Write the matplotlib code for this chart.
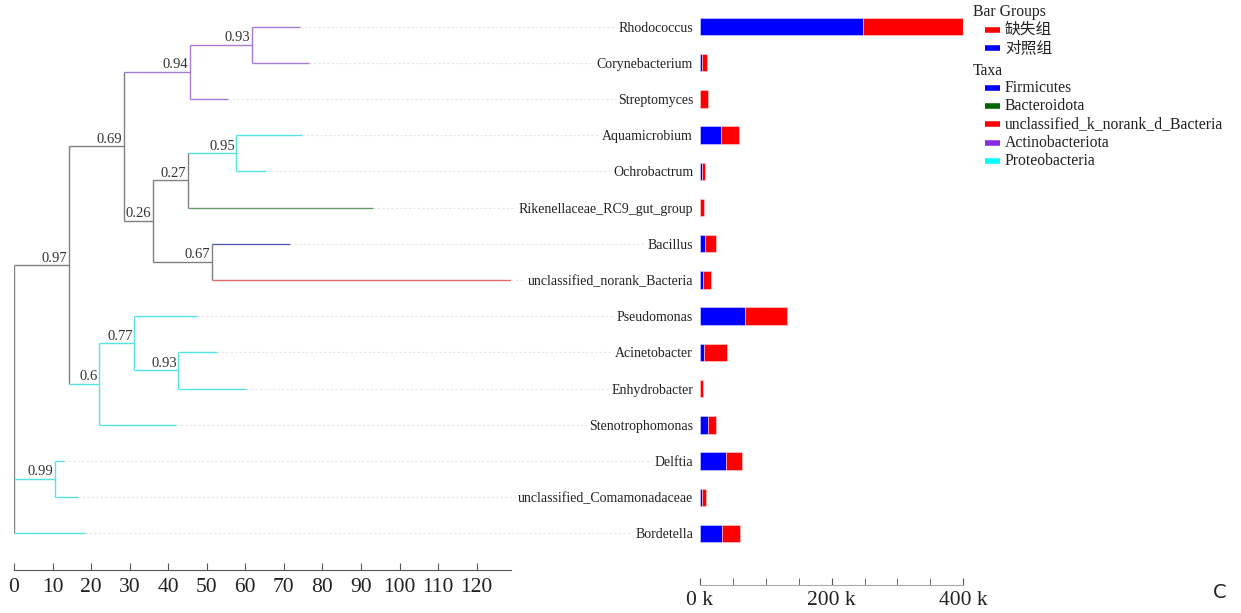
import numpy as np
import matplotlib
matplotlib.use("Agg")
import matplotlib.pyplot as plt
from matplotlib.lines import Line2D

# genera, top to bottom
taxa = ['Rhodococcus', 'Corynebacterium', 'Streptomyces', 'Aquamicrobium',
        'Ochrobactrum', 'Rikenellaceae_RC9_gut_group', 'Bacillus',
        'unclassified_norank_Bacteria', 'Pseudomonas', 'Acinetobacter',
        'Enhydrobacter', 'Stenotrophomonas', 'Delftia',
        'unclassified_Comamonadaceae', 'Bordetella']
phylum = ['Actinobacteriota', 'Actinobacteriota', 'Actinobacteriota',
          'Proteobacteria', 'Proteobacteria', 'Bacteroidota', 'Firmicutes',
          'unclassified_k_norank_d_Bacteria', 'Proteobacteria', 'Proteobacteria',
          'Proteobacteria', 'Proteobacteria', 'Proteobacteria', 'Proteobacteria',
          'Proteobacteria']
leaf_depth = [74.2, 76.4, 55.4, 74.6, 65.3, 93.2, 71.6, 128.8,
              47.5, 52.7, 60.3, 41.9, 13.0, 16.7, 18.4]

# abundances (reads), stacked as control then missing group
control = [247000, 2500, 0, 32000, 3500, 0, 8000, 4000,
           68400, 6600, 0, 11600, 39500, 3000, 32900]
missing = [153000, 7500, 11600, 28000, 4000, 6600, 15700, 12000,
           63300, 34400, 5000, 12200, 24800, 6600, 27800]

# internal nodes: name, children, depth, support
nodes = {
    'n93a': (['Rhodococcus', 'Corynebacterium'], 61.6, '0.93'),
    'n94': (['n93a', 'Streptomyces'], 45.6, '0.94'),
    'n95': (['Aquamicrobium', 'Ochrobactrum'], 57.7, '0.95'),
    'n27': (['n95', 'Rikenellaceae_RC9_gut_group'], 45.0, '0.27'),
    'n67': (['Bacillus', 'unclassified_norank_Bacteria'], 51.3, '0.67'),
    'n26': (['n27', 'n67'], 36.0, '0.26'),
    'n69': (['n94', 'n26'], 28.5, '0.69'),
    'n93b': (['Acinetobacter', 'Enhydrobacter'], 42.6, '0.93'),
    'n77': (['Pseudomonas', 'n93b'], 31.1, '0.77'),
    'n60': (['n77', 'Stenotrophomonas'], 22.1, '0.6'),
    'n97': (['n69', 'n60'], 14.2, '0.97'),
    'n99': (['Delftia', 'unclassified_Comamonadaceae'], 10.6, '0.99'),
    'root': (['n97', 'n99', 'Bordetella'], 0.0, ''),
}

phylum_colors = {
    'Firmicutes': '#0000ff',
    'Bacteroidota': '#006400',
    'unclassified_k_norank_d_Bacteria': '#ff0000',
    'Actinobacteriota': '#8a2be2',
    'Proteobacteria': '#00ffff',
}
tree_colors = {
    'Firmicutes': '#5a5ab8',
    'Bacteroidota': '#6a9a6a',
    'unclassified_k_norank_d_Bacteria': '#e06a6a',
    'Actinobacteriota': '#a77ad8',
    'Proteobacteria': '#55e3e3',
}
group_names = ['缺失组', '对照组']
group_colors = ['#ff0000', '#0000ff']

plt.rcParams['font.family'] = ['Liberation Serif', 'Noto Sans CJK SC',
                               'DejaVu Serif']

fig = plt.figure(figsize=(12.41, 6.13), dpi=100)
W, H = 1241, 613


def px_axes(x0, y0, x1, y1):
    return fig.add_axes([x0 / W, 1 - y1 / H, (x1 - x0) / W, (y1 - y0) / H])


row0, row_step = 26.5, 36.21
n = len(taxa)
leaf_y = {t: i for i, t in enumerate(taxa)}
leaf_x = dict(zip(taxa, leaf_depth))
leaf_ph = dict(zip(taxa, phylum))

# ---- tree ----
tx = px_axes(14, 0, 511, 570)
tx.set_xlim(0, 128.9)
tx.set_ylim((570 - row0) / row_step, -row0 / row_step)

pos = {}
clade_ph = {}


def place(name):
    if name in leaf_y:
        pos[name] = (leaf_x[name], leaf_y[name])
        clade_ph[name] = {leaf_ph[name]}
        return pos[name]
    kids, depth, _ = nodes[name]
    ys = [place(k)[1] for k in kids]
    clade_ph[name] = set().union(*[clade_ph[k] for k in kids])
    pos[name] = (depth, np.mean(ys))
    return pos[name]


place('root')


def col(name):
    s = clade_ph[name]
    return tree_colors[next(iter(s))] if len(s) == 1 else '#808080'


for name, (kids, depth, sup) in nodes.items():
    x, y = pos[name]
    ys = [pos[k][1] for k in kids]
    tx.plot([x, x], [min(ys), max(ys)], color=col(name), lw=1.0,
            solid_capstyle='butt')
    for k in kids:
        kx, ky = pos[k]
        tx.plot([x, kx], [ky, ky], color=col(k), lw=1.0,
                solid_capstyle='butt')
    if sup:
        tx.annotate(sup, (x, y), xytext=(-1, 0.5), textcoords='offset points',
                    ha='right', va='bottom', fontsize=10.5, color='#333333')

# faint guide lines from leaves to the labels
for t in taxa:
    tx.plot([leaf_x[t], 176], [leaf_y[t]] * 2, color='#e6e6e6', lw=0.8,
            ls=(0, (2, 2)), clip_on=False, zorder=0)

for s in ['left', 'right', 'top']:
    tx.spines[s].set_visible(False)
tx.spines['bottom'].set_color('#555555')
tx.set_yticks([])
tx.set_xticks(np.arange(0, 121, 10))
tx.tick_params(axis='x', direction='in', length=5, color='#555555',
               labelsize=15.5, pad=6, labelcolor='#222222')

# ---- stacked bars ----
bx = px_axes(700, 0, 963.3, 585)
bx.set_zorder(2)
bx.patch.set_visible(False)
y = np.arange(n)
bx.barh(y, control, height=0.48, color=group_colors[1], edgecolor='#d8d8ff',
        linewidth=0.4)
bx.barh(y, missing, left=control, height=0.48, color=group_colors[0],
        edgecolor='#ffd8d8', linewidth=0.4)
bx.set_xlim(0, 400000)
bx.set_ylim((585 - row0) / row_step, -row0 / row_step)
bx.set_yticks(y)
bx.set_yticklabels(taxa, fontsize=10, color='#222222')
for lbl in bx.get_yticklabels():
    lbl.set_bbox(dict(facecolor='white', edgecolor='none', pad=1.5))
bx.tick_params(axis='y', length=0, pad=5)
bx.set_xticks([0, 200000, 400000])
bx.set_xticklabels(['0 k', '200 k', '400 k'])
bx.set_xticks(np.arange(0, 400001, 50000), minor=True)
bx.tick_params(axis='x', which='both', direction='in', length=5,
               color='#555555', labelsize=15.5, pad=4, labelcolor='#222222')
for s in ['left', 'right', 'top']:
    bx.spines[s].set_visible(False)
bx.spines['bottom'].set_color('#aaaaaa')

# ---- legend ----
def legend_row(label, color, ypx):
    fig.add_artist(Line2D([985 / W, 1000 / W], [1 - ypx / H] * 2,
                          color=color, lw=4, solid_capstyle='butt'))
    fig.text(1005 / W, 1 - ypx / H, label, fontsize=11.3, va='center',
             ha='left', color='#222222')


fig.text(973 / W, 1 - 12 / H, 'Bar Groups', fontsize=11.3, va='center',
         color='#222222')
for i, (g, c) in enumerate(zip(group_names, group_colors)):
    legend_row(g, c, 29.5 + 18.5 * i)
fig.text(973 / W, 1 - 71 / H, 'Taxa', fontsize=11.3, va='center',
         color='#222222')
for i, (p, c) in enumerate(phylum_colors.items()):
    legend_row(p, c, 88 + 18.2 * i)

fig.text(1220 / W, 1 - 592 / H, 'C', fontsize=14, ha='center', va='center',
         family='DejaVu Sans', color='#222222')

fig.savefig('out.png', dpi=100, facecolor='white')
